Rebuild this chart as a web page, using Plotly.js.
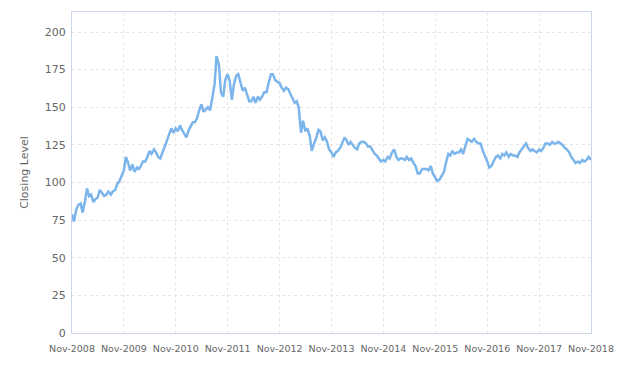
<!DOCTYPE html>
<html>
<head>
<meta charset="utf-8">
<script src="https://cdn.plot.ly/plotly-3.0.1.min.js"></script>
<style>html,body{margin:0;padding:0;background:#fff;}#chart{width:631px;height:366px;}</style>
</head>
<body>
<div id="chart"></div>
<script>
const dates = [
"2008-11-01","2008-11-15","2008-12-01","2008-12-15",
"2009-01-01","2009-01-15","2009-02-01","2009-02-15","2009-03-01","2009-03-15","2009-04-01","2009-04-15","2009-05-01","2009-05-15","2009-06-01","2009-06-15","2009-07-01","2009-07-15","2009-08-01","2009-08-15","2009-09-01","2009-09-15","2009-10-01","2009-10-15","2009-11-01","2009-11-15","2009-12-01","2009-12-15",
"2010-01-01","2010-01-15","2010-02-01","2010-02-15","2010-03-01","2010-03-15","2010-04-01","2010-04-15","2010-05-01","2010-05-15","2010-06-01","2010-06-15","2010-07-01","2010-07-15","2010-08-01","2010-08-15","2010-09-01","2010-09-15","2010-10-01","2010-10-15","2010-11-01","2010-11-15","2010-12-01","2010-12-15",
"2011-01-01","2011-01-15","2011-02-01","2011-02-15","2011-03-01","2011-03-15","2011-04-01","2011-04-15","2011-05-01","2011-05-15","2011-06-01","2011-06-15","2011-07-01","2011-07-15","2011-08-01","2011-08-15","2011-09-01","2011-09-15","2011-10-01","2011-10-15","2011-11-01","2011-11-15","2011-12-01","2011-12-15",
"2012-01-01","2012-01-15","2012-02-01","2012-02-15","2012-03-01","2012-03-15","2012-04-01","2012-04-15","2012-05-01","2012-05-15","2012-06-01","2012-06-15","2012-07-01","2012-07-15","2012-08-01","2012-08-15","2012-09-01","2012-09-15","2012-10-01","2012-10-15","2012-11-01","2012-11-15","2012-12-01","2012-12-15",
"2013-01-01","2013-01-15","2013-02-01","2013-02-15","2013-03-01","2013-03-15","2013-04-01","2013-04-15","2013-05-01","2013-05-15","2013-06-01","2013-06-15","2013-07-01","2013-07-15","2013-08-01","2013-08-15","2013-09-01","2013-09-15","2013-10-01","2013-10-15","2013-11-01","2013-11-15","2013-12-01","2013-12-15",
"2014-01-01","2014-01-15","2014-02-01","2014-02-15","2014-03-01","2014-03-15","2014-04-01","2014-04-15","2014-05-01","2014-05-15","2014-06-01","2014-06-15","2014-07-01","2014-07-15","2014-08-01","2014-08-15","2014-09-01","2014-09-15","2014-10-01","2014-10-15","2014-11-01","2014-11-15","2014-12-01","2014-12-15",
"2015-01-01","2015-01-15","2015-02-01","2015-02-15","2015-03-01","2015-03-15","2015-04-01","2015-04-15","2015-05-01","2015-05-15","2015-06-01","2015-06-15","2015-07-01","2015-07-15","2015-08-01","2015-08-15","2015-09-01","2015-09-15","2015-10-01","2015-10-15","2015-11-01","2015-11-15","2015-12-01","2015-12-15",
"2016-01-01","2016-01-15","2016-02-01","2016-02-15","2016-03-01","2016-03-15","2016-04-01","2016-04-15","2016-05-01","2016-05-15","2016-06-01","2016-06-15","2016-07-01","2016-07-15","2016-08-01","2016-08-15","2016-09-01","2016-09-15","2016-10-01","2016-10-15","2016-11-01","2016-11-15","2016-12-01","2016-12-15",
"2017-01-01","2017-01-15","2017-02-01","2017-02-15","2017-03-01","2017-03-15","2017-04-01","2017-04-15","2017-05-01","2017-05-15","2017-06-01","2017-06-15","2017-07-01","2017-07-15","2017-08-01","2017-08-15","2017-09-01","2017-09-15","2017-10-01","2017-10-15","2017-11-01","2017-11-15","2017-12-01","2017-12-15",
"2018-01-01","2018-01-15","2018-02-01","2018-02-15","2018-03-01","2018-03-15","2018-04-01","2018-04-15","2018-05-01","2018-05-15","2018-06-01","2018-06-15","2018-07-01","2018-07-15","2018-08-01","2018-08-15","2018-09-01","2018-09-15","2018-10-01","2018-10-15","2018-11-01"
];

const closing = [
79,74,82,85,86,80,88,96,91,92,87,89,90,95,93,91,92,94,92,94,95,99,101,104,
108,117,113,108,112,107,110,109,111,114,114,117,121,119,122,120,117,116,120,124,128,132,136,133,
136,134,138,135,132,130,135,138,140,140,143,148,152,147,149,150,148,157,165,184,178,160,157,168,
172,168,155,165,171,172,166,161,163,159,154,154,157,153,157,155,157,160,160,166,172,172,168,167,
166,163,161,163,162,159,155,153,154,150,133,141,134,136,131,121,126,129,135,134,128,130,127,122,
120,117,120,121,123,126,130,128,125,127,125,123,122,126,127,127,126,124,124,122,119,118,116,114,
115,114,117,116,120,122,117,115,116,116,115,117,115,116,113,111,106,106,109,109,109,108,111,106,
103,101,102,104,107,113,119,118,121,119,120,120,122,119,124,129,128,127,129,127,126,126,121,118,
114,110,111,114,117,118,116,119,118,120,117,119,118,118,117,120,122,124,126,123,121,122,121,120,
122,121,123,126,126,125,127,126,126,127,126,125,123,122,120,117,115,113,114,113,115,114,115,117,
115
];

const tickDates = ["2008-11-01","2009-11-01","2010-11-01","2011-11-01","2012-11-01","2013-11-01","2014-11-01","2015-11-01","2016-11-01","2017-11-01","2018-11-01"];
const tickLabels = ["Nov-2008","Nov-2009","Nov-2010","Nov-2011","Nov-2012","Nov-2013","Nov-2014","Nov-2015","Nov-2016","Nov-2017","Nov-2018"];
const yTicks = [0,25,50,75,100,125,150,175,200];

const trace = {
  x: dates, y: closing, type: 'scatter', mode: 'lines',
  line: {color: '#7cb5ec', width: 2.5},
  hoverinfo: 'x+y'
};

const layout = {
  width: 631, height: 366,
  margin: {l: 72, r: 40, t: 12, b: 33},
  paper_bgcolor: '#fff', plot_bgcolor: '#fff',
  showlegend: false,
  font: {family: 'DejaVu Sans, sans-serif', color: '#666'},
  xaxis: {
    type: 'date',
    range: ['2008-11-01', '2018-11-01'],
    tickmode: 'array', tickvals: tickDates, ticktext: tickLabels,
    tickfont: {size: 9.5, color: '#666'},
    showgrid: true, gridcolor: '#e6e6e6', griddash: '3px,3px', gridwidth: 1,
    showline: true, linecolor: '#ccd6eb', linewidth: 1, mirror: true,
    ticks: 'outside', ticklen: 7, tickcolor: 'rgba(0,0,0,0)', zeroline: false
  },
  yaxis: {
    range: [0, 213.3],
    tickmode: 'array', tickvals: yTicks,
    tickfont: {size: 11, color: '#666'},
    showgrid: true, gridcolor: '#e6e6e6', griddash: '3px,3px', gridwidth: 1,
    showline: true, linecolor: '#ccd6eb', linewidth: 1, mirror: true,
    ticks: 'outside', ticklen: 3, tickcolor: 'rgba(0,0,0,0)', zeroline: false,
    title: {text: 'Closing Level', font: {size: 11, color: '#666'}, standoff: 13}
  }
};

Plotly.newPlot('chart', [trace], layout, {displayModeBar: false, staticPlot: true});
</script>
</body>
</html>
